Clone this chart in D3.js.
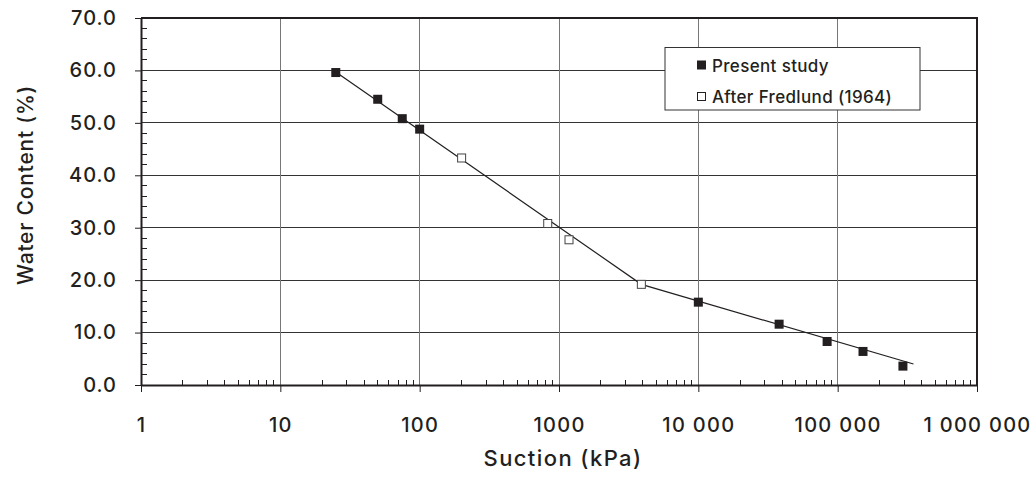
<!DOCTYPE html>
<html>
<head>
<meta charset="utf-8">
<script src="https://cdn.jsdelivr.net/npm/d3@7"></script>
<style>
  body { margin: 0; background: #fff; }
  svg text { font-family: Inter, "Liberation Sans", Arial, sans-serif; font-weight: 500; fill: #231f20; }
</style>
</head>
<body>
<div id="chart"></div>
<script>
// measured points, present study (filled squares)
const presentSuction = [25, 50, 75, 100, 10000, 38000, 84000, 152000, 294000];
const presentWater = [59.6, 54.5, 50.8, 48.8, 15.8, 11.6, 8.3, 6.4, 3.6];

// after Fredlund (1964) (open squares)
const fredlundSuction = [200, 830, 1180, 3900];
const fredlundWater = [43.3, 30.8, 27.7, 19.2];

// bilinear fit line
const fitSuction = [25, 3900, 350000];
const fitWater = [59.7, 19.2, 4.0];

const xTickValues = [1, 10, 100, 1000, 10000, 100000, 1000000];
const xTickLabels = ['1', '10', '100', '1000', '10 000', '100 000', '1 000 000'];
const yTickValues = [0, 10, 20, 30, 40, 50, 60, 70];

const legendLabels = ['Present study', 'After Fredlund (1964)'];

const width = 1036, height = 481;
const marginLeft = 141, marginRight = 59, marginTop = 18, marginBottom = 96;

const svg = d3.select('#chart').append('svg')
    .attr('width', width)
    .attr('height', height)
    .attr('viewBox', [0, 0, width, height]);

const x = d3.scaleLog()
    .domain([1, 1000000])
    .range([marginLeft, width - marginRight]);

const y = d3.scaleLinear()
    .domain([0, 70])
    .range([height - marginBottom, marginTop]);

// grid lines
svg.append('g')
    .attr('stroke-width', 1)
    .attr('shape-rendering', 'crispEdges')
    .call(g => g.selectAll('.h')
        .data(yTickValues.slice(1, -1))
        .join('line')
        .attr('stroke', '#333')
        .attr('x1', marginLeft).attr('x2', width - marginRight)
        .attr('y1', d => y(d)).attr('y2', d => y(d)))
    .call(g => g.selectAll('.v')
        .data(xTickValues.slice(1, -1))
        .join('line')
        .attr('stroke', '#777')
        .attr('y1', marginTop).attr('y2', height - marginBottom)
        .attr('x1', d => x(d)).attr('x2', d => x(d)));

// minor ticks on the x axis (inward)
const minorX = [];
for (let dec = 1; dec < 1000000; dec *= 10) {
    for (let k = 2; k <= 9; k++) minorX.push(dec * k);
}
svg.append('g')
    .attr('stroke', '#231f20')
    .attr('shape-rendering', 'crispEdges')
    .selectAll('line')
    .data(minorX)
    .join('line')
    .attr('x1', d => x(d)).attr('x2', d => x(d))
    .attr('y1', y(0)).attr('y2', y(0) - 5);

// minor ticks on the y axis (inward)
svg.append('g')
    .attr('stroke', '#231f20')
    .attr('shape-rendering', 'crispEdges')
    .selectAll('line')
    .data(d3.range(0, 70, 2).filter(d => d % 10 !== 0))
    .join('line')
    .attr('x1', marginLeft).attr('x2', marginLeft + 6)
    .attr('y1', d => y(d)).attr('y2', d => y(d));

// x axis
svg.append('g')
    .attr('transform', `translate(0,${y(0)})`)
    .call(d3.axisBottom(x)
        .tickValues(xTickValues)
        .tickFormat((d, i) => xTickLabels[i])
        .tickSize(7)
        .tickSizeOuter(0)
        .tickPadding(26))
    .call(g => g.select('.domain').attr('stroke', '#231f20').attr('stroke-width', 2))
    .call(g => g.selectAll('.tick line').attr('stroke', '#231f20'))
    .call(g => g.selectAll('.tick text')
        .attr('font-size', 20)
        .attr('letter-spacing', 1.3)
        .attr('fill', '#231f20'));

// y axis
svg.append('g')
    .attr('transform', `translate(${marginLeft},0)`)
    .call(d3.axisLeft(y)
        .tickValues(yTickValues)
        .tickFormat(d3.format('.1f'))
        .tickSize(6)
        .tickSizeOuter(0)
        .tickPadding(18))
    .call(g => g.select('.domain').attr('stroke', '#231f20').attr('stroke-width', 2))
    .call(g => g.selectAll('.tick line').attr('stroke', '#231f20'))
    .call(g => g.selectAll('.tick text')
        .attr('font-size', 20)
        .attr('letter-spacing', 1)
        .attr('fill', '#231f20'));

// top and right frame
svg.append('path')
    .attr('fill', 'none')
    .attr('stroke', '#231f20')
    .attr('stroke-width', 2)
    .attr('d', `M${marginLeft},${marginTop}H${width - marginRight}V${height - marginBottom}`);

// fit line
const line = d3.line()
    .x(d => x(d[0]))
    .y(d => y(d[1]));

svg.append('path')
    .attr('fill', 'none')
    .attr('stroke', '#231f20')
    .attr('stroke-width', 1.2)
    .attr('d', line(d3.zip(fitSuction, fitWater)));

const size = 8;

// Fredlund points (open)
svg.append('g')
    .selectAll('rect')
    .data(d3.zip(fredlundSuction, fredlundWater))
    .join('rect')
    .attr('x', d => x(d[0]) - size / 2)
    .attr('y', d => y(d[1]) - size / 2)
    .attr('width', size)
    .attr('height', size)
    .attr('fill', '#fff')
    .attr('stroke', '#444')
    .attr('stroke-width', 1);

// present study points (filled)
svg.append('g')
    .selectAll('rect')
    .data(d3.zip(presentSuction, presentWater))
    .join('rect')
    .attr('x', d => x(d[0]) - size / 2 - 0.5)
    .attr('y', d => y(d[1]) - size / 2 - 0.5)
    .attr('width', size + 1)
    .attr('height', size + 1)
    .attr('fill', '#231f20');

// legend
const legend = svg.append('g').attr('transform', 'translate(665,47.5)');
legend.append('rect')
    .attr('width', 255)
    .attr('height', 62.5)
    .attr('fill', '#fff')
    .attr('stroke', '#333')
    .attr('stroke-width', 1);

legendLabels.forEach((lab, i) => {
    const cy = 17.5 + i * 31.5;
    legend.append('rect')
        .attr('x', 32.5)
        .attr('y', cy - 4)
        .attr('width', 8)
        .attr('height', 8)
        .attr('fill', i === 0 ? '#231f20' : '#fff')
        .attr('stroke', '#231f20')
        .attr('stroke-width', 1);
    legend.append('text')
        .attr('x', 47)
        .attr('y', cy + 6.5)
        .attr('font-size', 17)
        .attr('letter-spacing', 0.35)
        .text(lab);
});

// axis titles
svg.append('text')
    .attr('x', 563)
    .attr('y', 466)
    .attr('text-anchor', 'middle')
    .attr('font-size', 22)
    .attr('letter-spacing', 1.4)
    .text('Suction (kPa)');

svg.append('text')
    .attr('transform', 'translate(33,185) rotate(-90)')
    .attr('text-anchor', 'middle')
    .attr('font-size', 21)
    .attr('letter-spacing', 0.8)
    .text('Water Content (%)');
</script>
</body>
</html>
